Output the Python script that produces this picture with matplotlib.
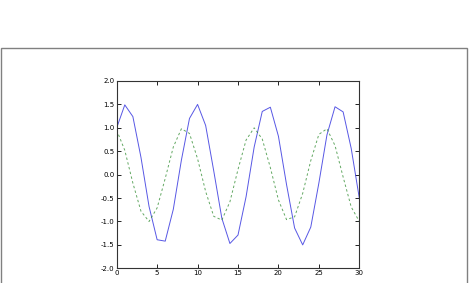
import matplotlib
matplotlib.use('Agg')
import matplotlib.pyplot as plt
from matplotlib.patches import Rectangle

# sample positions and the two series
x = list(range(31))
solid = [1.00, 1.49, 1.24, 0.37, -0.68, -1.39, -1.42, -0.74, 0.31, 1.20,
         1.50, 1.05, 0.08, -0.93, -1.47, -1.29, -0.47, 0.59, 1.35, 1.44,
         0.82, -0.21, -1.14, -1.50, -1.12, -0.18, 0.85, 1.45, 1.34, 0.56,
         -0.50]
dashed = [0.95, 0.52, -0.18, -0.78, -1.00, -0.71, -0.08, 0.59, 0.98, 0.88,
          0.34, -0.36, -0.89, -0.97, -0.58, 0.11, 0.74, 1.00, 0.76, 0.15,
          -0.54, -0.96, -0.90, -0.40, 0.30, 0.86, 0.98, 0.62, -0.05, -0.69,
          -1.00]
xticks = [0, 5, 10, 15, 20, 25, 30]
yticks = [-2.0, -1.5, -1.0, -0.5, 0.0, 0.5, 1.0, 1.5, 2.0]

fig = plt.figure(figsize=(4.69, 2.83), dpi=100)
fig.patch.set_facecolor('white')

# outer frame of the (cropped) figure
fig.patches.append(Rectangle((1.0 / 469, -0.2), 466.0 / 469, 1.2 - 48.0 / 283,
                             transform=fig.transFigure, fill=False,
                             edgecolor='#808080', linewidth=1.0))

ax = fig.add_axes([116.7 / 469, 1 - 268.3 / 283, 242.6 / 469, 187.3 / 283])
ax.plot(x, solid, color='#3a3ae0', linewidth=0.7, alpha=0.85)
ax.plot(x, dashed, color='#2e8b2e', linewidth=0.7, linestyle='--',
        dashes=(2.5, 2.5), alpha=0.75)

ax.set_xlim(0, 30)
ax.set_ylim(-2.0, 2.0)
ax.set_xticks(xticks)
ax.set_yticks(yticks)
ax.set_yticklabels(['%.1f' % v for v in yticks])
ax.tick_params(direction='in', top=True, right=True, labelsize=5,
               length=3, width=0.6, pad=1.5)
for sp in ax.spines.values():
    sp.set_linewidth(0.8)
    sp.set_color('#333333')

fig.savefig('out.png', dpi=100)
